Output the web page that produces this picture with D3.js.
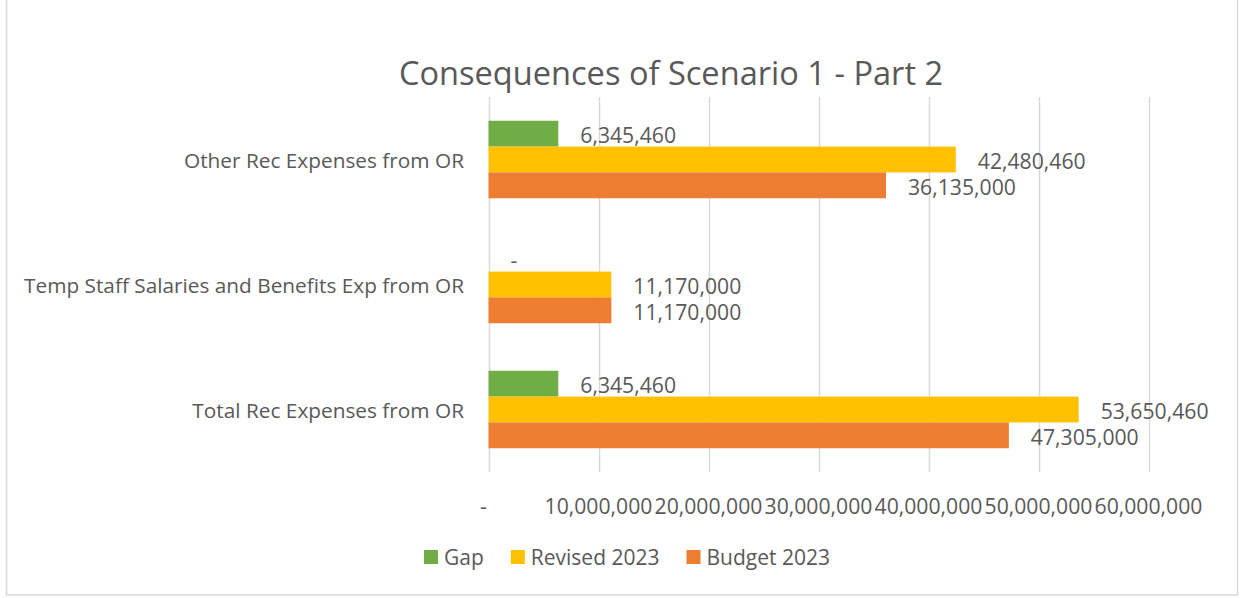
<!DOCTYPE html>
<html>
<head>
<meta charset="utf-8">
<script src="https://cdn.jsdelivr.net/npm/d3@7"></script>
<style>
  html, body { margin: 0; padding: 0; background: #fff; }
  svg { display: block; }
  text { font-family: "Open Sans", "Noto Sans", sans-serif; fill: #595959; }
</style>
</head>
<body>
<svg id="chart" width="1244" height="598"></svg>
<script>
// ---- data ----
const categories = ["Other Rec Expenses from OR", "Temp Staff Salaries and Benefits Exp from OR", "Total Rec Expenses from OR"];
const seriesNames = ["Gap", "Revised 2023", "Budget 2023"];
const gapValues = [6345460, 0, 6345460];
const revisedValues = [42480460, 11170000, 53650460];
const budgetValues = [36135000, 11170000, 47305000];
const tickValues = [0, 10000000, 20000000, 30000000, 40000000, 50000000, 60000000];
const colors = ["#70AD47", "#FFC000", "#ED7D31"];
const title = "Consequences of Scenario 1 - Part 2";

const seriesValues = [gapValues, revisedValues, budgetValues];

const svg = d3.select("#chart");

// chart border
svg.append("rect")
  .attr("x", 6.5).attr("y", -1).attr("width", 1231).attr("height", 596)
  .attr("fill", "#fff").attr("stroke", "#D9D9D9").attr("stroke-width", 1.5);

const plot = { left: 488.5, right: 1148.5, top: 97, bottom: 472 };

const x = d3.scaleLinear().domain([0, 60000000]).range([plot.left, plot.right]);
const y0 = d3.scaleBand().domain(categories).range([plot.top, plot.bottom])
  .paddingInner(0.38).paddingOuter(0.19);
const y1 = d3.scaleBand().domain(seriesNames).range([0, y0.bandwidth()]);

const fmt = v => v === 0 ? "-" : d3.format(",")(v);

// gridlines
svg.append("g").selectAll("line").data(tickValues).join("line")
  .attr("x1", d => Math.round(x(d)) + 0.5).attr("x2", d => Math.round(x(d)) + 0.5)
  .attr("y1", plot.top).attr("y2", plot.bottom)
  .attr("stroke", "#D9D9D9").attr("stroke-width", 1.5);

// x axis tick labels
svg.append("g").selectAll("text").data(tickValues).join("text")
  .attr("x", d => x(d) + (d === 0 ? -5 : 0))
  .attr("y", 505)
  .attr("text-anchor", "middle")
  .attr("dominant-baseline", "central")
  .style("font-size", "21.2px")
  .text(fmt);

// category labels
svg.append("g").selectAll("text").data(categories).join("text")
  .attr("x", 464)
  .attr("y", d => y0(d) + y0.bandwidth() / 2)
  .attr("text-anchor", "end")
  .attr("dominant-baseline", "central")
  .style("font-size", "20.8px")
  .text(d => d);

// bars
const rows = [];
categories.forEach((c, i) => {
  seriesNames.forEach((s, j) => {
    rows.push({ cat: c, series: s, value: seriesValues[j][i], color: colors[j] });
  });
});

const barG = svg.append("g");
barG.selectAll("rect").data(rows).join("rect")
  .attr("x", x(0))
  .attr("y", d => y0(d.cat) + y1(d.series))
  .attr("width", d => x(d.value) - x(0))
  .attr("height", y1.bandwidth())
  .attr("fill", d => d.color);

// value labels
barG.selectAll("text").data(rows).join("text")
  .attr("x", d => x(d.value) + 22)
  .attr("y", d => y0(d.cat) + y1(d.series) + y1.bandwidth() / 2 + 1)
  .attr("dominant-baseline", "central")
  .style("font-size", "21.2px")
  .text(d => fmt(d.value));

// title
svg.append("text")
  .attr("x", 671).attr("y", 72)
  .attr("text-anchor", "middle")
  .attr("dominant-baseline", "central")
  .style("font-size", "32.6px")
  .text(title);

// legend
const legend = svg.append("g");
const items = legend.selectAll("g").data(seriesNames).join("g");
items.append("rect").attr("width", 14).attr("height", 14).attr("y", -7)
  .attr("fill", (d, i) => colors[i]);
items.append("text").attr("x", 20).attr("dominant-baseline", "central")
  .style("font-size", "21px").text(d => d);
let cx = 0;
items.each(function () {
  const g = d3.select(this);
  g.attr("transform", `translate(${cx},0)`);
  cx += 20 + g.select("text").node().getComputedTextLength() + 27;
});
const totalW = cx - 27;
legend.attr("transform", `translate(${627 - totalW / 2},557)`);
</script>
</body>
</html>
